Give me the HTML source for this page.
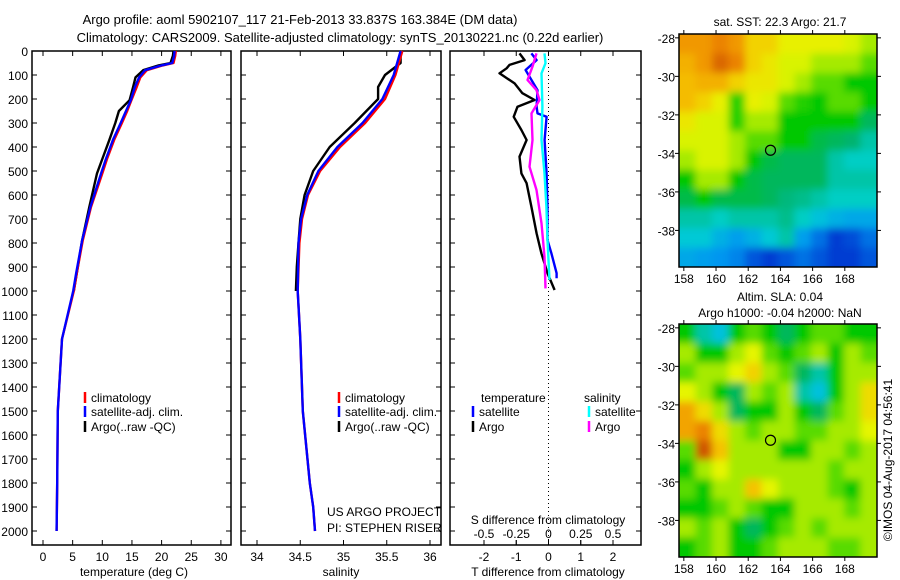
<!DOCTYPE html>
<html><head><meta charset="utf-8"><style>
body{margin:0;background:#fff}
svg{display:block;font-family:"Liberation Sans",sans-serif;font-size:12px}
</style></head><body>
<svg id="c" width="900" height="580" viewBox="0 0 900 580">
<defs>
<filter id="bl" x="-5%" y="-5%" width="110%" height="110%"><feGaussianBlur stdDeviation="4"/></filter>
<clipPath id="cm1"><rect x="679" y="34" width="198" height="233"/></clipPath>
<clipPath id="cm2"><rect x="679" y="324" width="198" height="233"/></clipPath>
</defs>
<text x="300" y="24" text-anchor="middle" font-size="13">Argo profile: aoml 5902107_117 21-Feb-2013 33.837S 163.384E (DM data)</text>
<text x="340" y="42" text-anchor="middle" font-size="13">Climatology: CARS2009. Satellite-adjusted climatology: synTS_20130221.nc (0.22d earlier)</text>
<g id="g"></g>
</svg>
<script>
// ---- data ----
const argoTDepth=[0,20,50,60,80,110,150,205,250,300,370,450,510,650,790,925,1000];
const argoT=[22.0,21.9,21.5,19.5,16.9,15.6,15.2,14.6,12.8,12.2,11.2,10.0,9.1,7.8,6.6,5.7,5.2];
const climDepth=[0,20,50,60,80,110,150,205,250,300,370,450,510,650,790,925,1000,1200,1500,1800,2000];
const climT=[22.4,22.3,22.0,20.2,17.5,16.4,15.8,14.9,14.2,13.3,12.0,10.8,10.0,8.1,6.7,5.7,5.2,3.2,2.5,2.4,2.3];
const satT=[22.2,22.1,21.8,20.0,17.2,16.2,15.5,14.8,14.0,13.1,11.8,10.6,9.8,8.0,6.6,5.6,5.1,3.2,2.5,2.4,2.3];
const argoSDepth=[0,50,100,150,200,300,400,500,600,700,800,900,1000];
const argoS=[35.66,35.66,35.48,35.4,35.4,35.13,34.84,34.65,34.55,34.5,34.48,34.46,34.45];
const climSDepth=[0,100,200,300,400,500,600,700,800,1000,1200,1500,1800,1900,2000];
const climS=[35.68,35.6,35.48,35.25,34.96,34.73,34.59,34.52,34.49,34.47,34.5,34.53,34.61,34.65,34.67];
const satS=[35.66,35.58,35.45,35.22,34.93,34.71,34.58,34.51,34.48,34.47,34.5,34.53,34.61,34.65,34.67];
const dTArgoDepth=[10,38,58,72,93,135,176,204,232,274,329,371,440,510,551,649,760,843,926,996];
const dTArgo=[-0.9,-0.74,-1.21,-1.3,-1.52,-1.05,-0.81,-0.43,-0.96,-1.08,-0.84,-0.68,-0.9,-0.84,-0.68,-0.53,-0.37,-0.22,-0.03,0.19];
const dTSatDepth=[10,38,79,93,163,232,260,274,371,510,649,788,843,926,947];
const dTSat=[-0.53,-0.37,-0.71,-0.65,-0.34,-0.37,-0.34,-0.06,-0.12,-0.06,-0.03,-0.03,0.09,0.25,0.25];
const dSArgoDepth=[10,65,121,163,204,260,371,482,579,718,857,989];
const dSArgo=[-0.093,-0.124,-0.163,-0.093,-0.07,-0.132,-0.124,-0.147,-0.093,-0.054,-0.031,-0.023];
const dSSatDepth=[10,51,93,232,371,510,649,788,954];
const dSSat=[-0.031,-0.023,-0.054,-0.047,-0.054,-0.031,-0.016,-0.008,0.008];
const depthTicks=[0,100,200,300,400,500,600,700,800,900,1000,1100,1200,1300,1400,1500,1600,1700,1800,1900,2000];
const tTicks=[0,5,10,15,20,25,30];
const sTicks=[34,34.5,35,35.5,36];
const sTickLabels=["34","34.5","35","35.5","36"];
const dTTicks=[-2,-1,0,1,2];
const dSTicks=[-0.5,-0.25,0,0.25,0.5];
const dSTickLabels=["-0.5","-0.25","0","0.25","0.5"];
const lonTicks=[158,160,162,164,166,168];
const latTicks=[-28,-30,-32,-34,-36,-38];
const sstGrid=[
[.82,.82,.85,.82,.72,.72,.66,.66,.66,.66,.64,.6],
[.78,.82,.88,.85,.72,.68,.64,.64,.6,.6,.6,.55],
[.76,.78,.78,.72,.68,.68,.64,.6,.55,.55,.5,.5],
[.76,.72,.66,.52,.66,.64,.55,.52,.5,.55,.55,.5],
[.68,.64,.64,.52,.6,.6,.5,.5,.5,.5,.5,.45],
[.64,.64,.64,.6,.55,.55,.5,.5,.46,.45,.44,.4],
[.6,.64,.64,.6,.5,.46,.45,.45,.45,.4,.38,.38],
[.5,.6,.6,.5,.46,.45,.45,.45,.45,.4,.4,.4],
[.46,.5,.46,.46,.46,.45,.43,.42,.4,.38,.38,.38],
[.4,.4,.38,.4,.4,.4,.42,.38,.35,.33,.32,.32],
[.36,.36,.33,.31,.33,.36,.4,.31,.26,.2,.22,.26],
[.32,.31,.3,.28,.23,.2,.23,.26,.23,.2,.2,.23]];
const slaGrid=[
[.5,.4,.35,.5,.55,.5,.45,.5,.55,.55,.5,.5],
[.6,.5,.5,.6,.65,.55,.5,.55,.6,.5,.6,.55],
[.55,.6,.6,.65,.72,.6,.55,.45,.4,.5,.6,.6],
[.65,.6,.5,.45,.6,.55,.6,.4,.35,.5,.6,.7],
[.8,.7,.6,.45,.5,.5,.6,.5,.45,.55,.6,.7],
[.8,.85,.7,.6,.55,.6,.6,.55,.55,.6,.6,.65],
[.55,.9,.75,.6,.6,.6,.5,.5,.6,.6,.55,.6],
[.5,.6,.65,.6,.6,.6,.6,.6,.6,.55,.6,.6],
[.55,.5,.6,.6,.75,.65,.6,.6,.6,.55,.5,.6],
[.5,.5,.55,.6,.55,.5,.5,.6,.6,.6,.55,.6],
[.6,.55,.6,.5,.45,.5,.55,.6,.55,.6,.6,.6],
[.5,.55,.6,.5,.5,.55,.6,.6,.6,.55,.55,.6]];
const argoLon=163.384, argoLat=-33.837;

// ---- helpers ----
const NS="http://www.w3.org/2000/svg";
const G=document.getElementById('g');
function mk(tag,attrs,parent){const e=document.createElementNS(NS,tag);for(const k in attrs)e.setAttribute(k,attrs[k]);(parent||G).appendChild(e);return e;}
function txt(x,y,s,anchor,parent){const e=mk('text',{x:x,y:y,'text-anchor':anchor||'middle'},parent);e.textContent=s;return e;}
const Y0=51, PB=545;
const yD=d=>Y0+0.24*d;
const xT=t=>43+5.93*t;
const xS=s=>257+86.5*(s-34);
const xDT=t=>548.5+32.25*t;
const xDS=s=>548.5+129*s;

function panel(x1,x2,name){
  const r=mk('rect',{x:x1,y:Y0,width:x2-x1,height:PB-Y0,fill:'none',stroke:'#000','stroke-width':1.5});
  
  
  depthTicks.forEach(d=>{const y=yD(d);
    const t1=mk('line',{x1:x1,x2:x1+5,y1:y,y2:y,stroke:'#000'});
    
    
    const t2=mk('line',{x1:x2-5,x2:x2,y1:y,y2:y,stroke:'#000'});
    
    
  });
}
function xticks(vals,labels,fx,name,labY,top){
  vals.forEach((v,i)=>{const x=fx(v);
    const a=mk('line',{x1:x,x2:x,y1:PB-5,y2:PB,stroke:'#000'});
    
    
    if(top){const b=mk('line',{x1:x,x2:x,y1:Y0,y2:Y0+5,stroke:'#000'});
      
      }
    if(labY){const t=txt(x,labY,labels[i]);
      
      }
  });
}
function line(xs,ds,fx,color,w,name){
  const p=xs.map((v,i)=>fx(v).toFixed(1)+','+yD(ds[i]).toFixed(1)).join(' ');
  const e=mk('polyline',{points:p,fill:'none',stroke:color,'stroke-width':w,'stroke-linejoin':'round'});
  
  
}

// ---- panel 1 temperature ----
panel(32,231,'temperature-panel');
depthTicks.forEach(d=>{const t=txt(28,yD(d)+5,String(d),'end');
  
  });
xticks(tTicks,tTicks.map(String),xT,'temperature-axis',561,true);
line(argoT,argoTDepth,xT,'#000',2.4,'argo-temperature-line');
line(climT,climDepth,xT,'#f00',2.4,'clim-temperature-line');
line(satT,climDepth,xT,'#00f',2.4,'sat-temperature-line');
let t=txt(134,576,'temperature (deg C)');



function legend(x,y,color,label,name){
  const l=mk('line',{x1:x,x2:x,y1:y-10,y2:y+1,stroke:color,'stroke-width':2.5});
  
  
  const tt=txt(x+6,y,label,'start');
  
  
}
legend(85,402,'#f00','climatology','legend-climatology');
legend(85,416,'#00f','satellite-adj. clim.','legend-satellite');
legend(85,431,'#000','Argo(..raw -QC)','legend-argo');

// ---- panel 2 salinity ----
panel(241,441,'salinity-panel');
xticks(sTicks,sTickLabels,xS,'salinity-axis',561,true);
line(argoS,argoSDepth,xS,'#000',2.4,'argo-salinity-line');
line(climS,climSDepth,xS,'#f00',2.4,'clim-salinity-line');
line(satS,climSDepth,xS,'#00f',2.4,'sat-salinity-line');
t=txt(341,576,'salinity');


legend(339,402,'#f00','climatology','legend2-climatology');
legend(339,416,'#00f','satellite-adj. clim.','legend2-satellite');
legend(339,431,'#000','Argo(..raw -QC)','legend2-argo');
t=txt(327,516,'US ARGO PROJECT','start');


t=txt(327,532,'PI: STEPHEN RISER','start');



// ---- panel 3 differences ----
panel(450,641,'difference-panel');
const z=mk('line',{x1:xDT(0),x2:xDT(0),y1:Y0,y2:PB,stroke:'#000','stroke-dasharray':'1,3'});


xticks(dTTicks,dTTicks.map(String),xDT,'t-diff-axis',561,false);
xticks(dSTicks,dSTickLabels,xDS,'s-diff-axis',538,false);
dSTicks.forEach(v=>{const x=xDS(v);const b=mk('line',{x1:x,x2:x,y1:Y0,y2:Y0+5,stroke:'#000'});
  
  });
line(dTArgo,dTArgoDepth,xDT,'#000',2.4,'argo-t-diff-line');
line(dTSat,dTSatDepth,xDT,'#00f',2.4,'sat-t-diff-line');
line(dSArgo,dSArgoDepth,xDS,'#f0f',2.4,'argo-s-diff-line');
line(dSSat,dSSatDepth,xDS,'#0ff',2.4,'sat-s-diff-line');
t=txt(548,524,'S difference from climatology');


t=txt(548,576,'T difference from climatology');


t=txt(481,402,'temperature','start');


t=txt(584,402,'salinity','start');


legend(473,416,'#00f','satellite','legend-t-satellite');
legend(473,431,'#000','Argo','legend-t-argo');
legend(589,416,'#0ff','satellite','legend-s-satellite');
legend(589,431,'#f0f','Argo','legend-s-argo');

// ---- maps ----
const cmapStops=[0,0.2,0.3,0.37,0.44,0.5,0.58,0.65,0.74,0.84,0.95,1];
const cmapCols=[[0,0,140],[0,60,210],[0,150,240],[0,210,210],[0,180,110],[0,200,0],[140,230,0],[230,245,0],[245,200,0],[240,140,0],[180,40,0],[140,20,0]];
function cmap(v){
  for(let i=1;i<cmapStops.length;i++){
    if(v<=cmapStops[i]){const f=(v-cmapStops[i-1])/(cmapStops[i]-cmapStops[i-1]);
      const a=cmapCols[i-1],b=cmapCols[i];
      return 'rgb('+a.map((c,k)=>Math.round(c+(b[k]-c)*f)).join(',')+')';}
  }
  return 'rgb(140,20,0)';
}
function map(grid,top,clip,name){
  const L=679,W=198,H=233;
  const lonMin=157.7,lonMax=170.0,latTop=-27.8,latBot=-39.9;
  const mx=lon=>L+(lon-lonMin)/(lonMax-lonMin)*W;
  const my=lat=>top+(latTop-lat)/(latTop-latBot)*H;
  const gg=mk('g',{'clip-path':'url(#'+clip+')'});
  
  
  const inner=mk('g',{filter:'url(#bl)'},gg);
  const rows=grid.length, cols=grid[0].length, cw=W/cols, ch=H/rows;
  grid.forEach((row,i)=>row.forEach((v,j)=>{
    const c=mk('rect',{x:L+j*cw-(j==0?12:0),y:top+i*ch-(i==0?12:0),width:cw+1+(j==0||j==cols-1?12:0),height:ch+1+(i==0||i==rows-1?12:0),fill:cmap(v)},inner);
    
    
  }));
  const fr=mk('rect',{x:L,y:top,width:W,height:H,fill:'none',stroke:'#000','stroke-width':1.5});
  
  
  lonTicks.forEach(lo=>{const x=mx(lo);
    const a=mk('line',{x1:x,x2:x,y1:top-4,y2:top,stroke:'#000'});
    
    
    const b=mk('line',{x1:x,x2:x,y1:top+H,y2:top+H+4,stroke:'#000'});
    
    
    const tl=txt(x,top+H+16,String(lo));
    
    });
  latTicks.forEach(la=>{const y=my(la);
    const a=mk('line',{x1:L-4,x2:L,y1:y,y2:y,stroke:'#000'});
    
    
    const b=mk('line',{x1:L+W,x2:L+W+4,y1:y,y2:y,stroke:'#000'});
    
    
    const tl=txt(675,y+5,String(la),'end');
    
    });
  const c=mk('circle',{cx:mx(argoLon),cy:my(argoLat),r:5,fill:'none',stroke:'#000','stroke-width':1.2});
  
  
}
map(sstGrid,34,'cm1','sst-map');
map(slaGrid,324,'cm2','sla-map');
t=txt(780,26,'sat. SST: 22.3 Argo: 21.7');


t=txt(780,301,'Altim. SLA: 0.04');


t=txt(780,317,'Argo h1000: -0.04 h2000: NaN');


t=txt(0,0,'©IMOS 04-Aug-2017 04:56:41');
t.setAttribute('transform','translate(892,460) rotate(-90)');


</script>
</body></html>
